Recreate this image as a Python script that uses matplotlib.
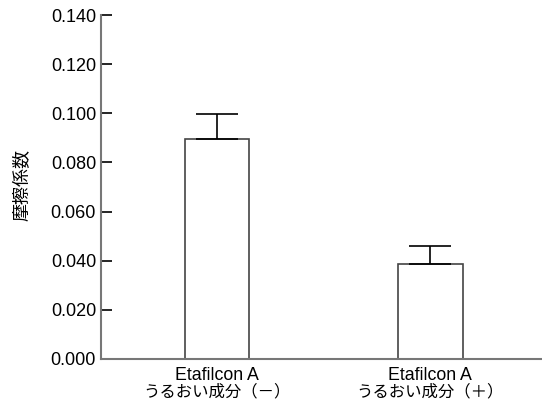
import matplotlib.pyplot as plt
import numpy as np

labels_en = ["Etafilcon A", "Etafilcon A"]
labels_jp = ["うるおい成分（－）", "うるおい成分（＋）"]
means = [0.0894, 0.0385]
err_up = [0.0102, 0.0074]
yticks = [0.0, 0.02, 0.04, 0.06, 0.08, 0.10, 0.12, 0.14]

fig = plt.figure(figsize=(5.42, 4.07), dpi=100)
ax = fig.add_axes([0.1863, 0.118, 0.8137, 0.845])

x = np.arange(len(means))
ax.bar(x, means, width=0.302, color="white", edgecolor="#444444", linewidth=1.2, zorder=2)
ax.errorbar(x, means, yerr=[[0] * len(means), err_up], fmt="none",
            ecolor="black", elinewidth=1.2, capsize=15, capthick=1.2, zorder=3)

ax.set_xlim(-0.544, 1.523)
ax.set_ylim(0, 0.14)

for s in ["top", "right"]:
    ax.spines[s].set_visible(False)
for s in ["left", "bottom"]:
    ax.spines[s].set_color("#777777")
    ax.spines[s].set_linewidth(1.5)

ax.set_yticks(yticks)
ax.set_yticklabels([f"{v:.3f}" for v in yticks], family="Liberation Sans", fontsize=13)
ax.tick_params(axis="y", direction="in", length=8, width=1.2, color="black", pad=3.5)

ax.set_xticks(x)
ax.set_xticklabels(labels_en, family="Liberation Sans", fontsize=12.8)
ax.tick_params(axis="x", length=0, pad=6)
for xi, t in zip(x, labels_jp):
    ax.text(xi, -0.096, t, transform=ax.get_xaxis_transform(), ha="center", va="center",
            family=["Noto Sans CJK JP", "DejaVu Sans"], fontsize=11.8)

ax.set_ylabel("摩擦係数", family=["Noto Sans CJK JP", "DejaVu Sans"], fontsize=13)
ax.yaxis.set_label_coords(-0.157, 0.506)

fig.savefig("out.png", dpi=100)
